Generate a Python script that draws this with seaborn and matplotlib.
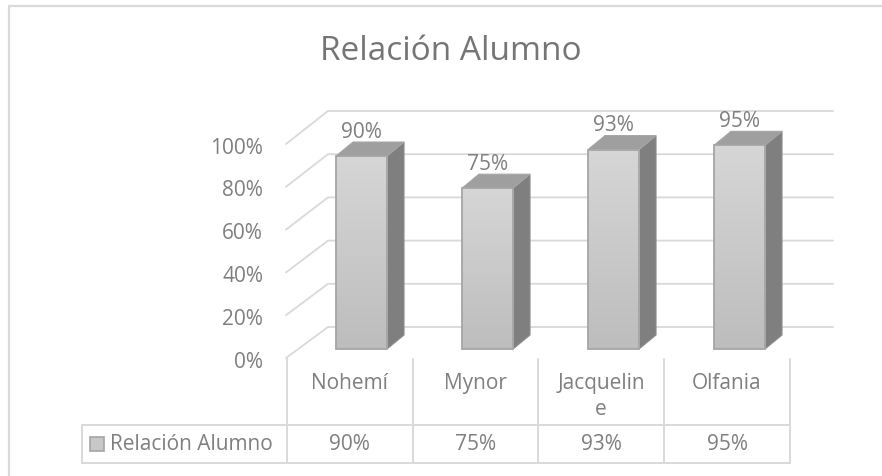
import textwrap
import numpy as np
import pandas as pd
import seaborn as sns
import matplotlib.pyplot as plt
from matplotlib.patches import Polygon, Rectangle
from matplotlib.transforms import ScaledTranslation

categorias = ["Nohemí", "Mynor", "Jacqueline", "Olfania"]
valores = [90, 75, 93, 95]
serie = "Relación Alumno"
ticks = [0, 20, 40, 60, 80, 100]

W, H = 882, 476
GRIS_LINEA = "#d9d9d9"
GRIS_TEXTO = "#7f7f7f"
LETRA = 15

sns.set_theme(style="white")
plt.rcParams["font.family"] = ["Open Sans", "DejaVu Sans"]

fig = plt.figure(figsize=(W / 100, H / 100), dpi=100)

# Capa de fondo en pixeles: marco, paredes 3D y tabla de datos
fondo = fig.add_axes([0, 0, 1, 1], zorder=0)
fondo.set_xlim(0, W)
fondo.set_ylim(H, 0)
fondo.axis("off")

fondo.plot([8.5, 8.5, W], [H, 5.5, 5.5], color=GRIS_LINEA, lw=1.6)

for t in ticks:
    y_frente = 358 - 2.14 * t
    y_fondo = 327 - 2.16 * t
    fondo.plot([286, 328, 833], [y_frente, y_fondo, y_fondo], color=GRIS_LINEA, lw=1.3)

# Tabla
cortes = [287, 412.5, 538, 664, 790]
for x in cortes:
    fondo.plot([x, x], [359, 463], color=GRIS_LINEA, lw=1.4)
fondo.plot([82, 82, 790], [463, 425, 425], color=GRIS_LINEA, lw=1.4)
fondo.plot([82, 790], [463, 463], color=GRIS_LINEA, lw=1.4)

for i, (nombre, v) in enumerate(zip(categorias, valores)):
    centro = (cortes[i] + cortes[i + 1]) / 2
    fondo.text(centro, 373, "\n".join(textwrap.wrap(nombre, 9)), ha="center", va="top",
               fontsize=LETRA, color=GRIS_TEXTO, linespacing=1.3)
    fondo.text(centro, 445, f"{v}%", ha="center", va="center", fontsize=LETRA, color=GRIS_TEXTO)

fondo.add_patch(Rectangle((90, 437), 14, 14, facecolor="#c8c8c8", edgecolor="#a5a5a5", lw=1.2))
fondo.text(110, 445, serie, ha="left", va="center", fontsize=LETRA, color=GRIS_TEXTO)

fondo.text(451, 52, serie, ha="center", va="center", fontsize=24, color="#757575")

# Barras con seaborn sobre escala real de 0 a 100
ax = fig.add_axes([298.5 / W, (H - 349) / H, 504 / W, 214.4 / H], zorder=1)
ax.patch.set_alpha(0)
df = pd.DataFrame({"nombre": categorias, "valor": valores})
sns.barplot(data=df, x="nombre", y="valor", color="#c8c8c8", saturation=1, width=0.405,
            edgecolor="#a5a5a5", linewidth=1.3, ax=ax)

ax.set_xlim(-0.5, 3.5)
ax.set_ylim(0, 100)
ax.set_xlabel("")
ax.set_ylabel("")
ax.set_xticks([])
ax.set_yticks(ticks)
ax.set_yticklabels([f"{t}%" for t in ticks], fontsize=LETRA, color=GRIS_TEXTO)
ax.tick_params(axis="y", length=0, pad=25.5)
sns.despine(ax=ax, left=True, bottom=True)

# Las etiquetas del eje van en el plano frontal, un poco por debajo de las barras
bajar = ScaledTranslation(0, -11 / 100, fig.dpi_scale_trans)
for lab in ax.get_yticklabels():
    lab.set_transform(lab.get_transform() + bajar)

# Caras laterales, superiores y degradado de cada barra
dx = 17 / 126
dy = 14 / 2.144
degradado = np.linspace(0, 1, 256).reshape(-1, 1)
cmap = sns.blend_palette(["#d6d6d6", "#bdbdbd"], n_colors=256, as_cmap=True)
for barra in list(ax.patches):
    x0, x1 = barra.get_x(), barra.get_x() + barra.get_width()
    alto = barra.get_height()
    ax.add_patch(Polygon([(x1, 0), (x1 + dx, dy), (x1 + dx, alto + dy), (x1, alto)],
                         facecolor="#7f7f7f", edgecolor="#8c8c8c", lw=0.8, zorder=2))
    ax.add_patch(Polygon([(x0, alto), (x0 + dx, alto + dy), (x1 + dx, alto + dy), (x1, alto)],
                         facecolor="#9f9f9f", edgecolor="#a5a5a5", lw=0.8, zorder=2))
    ax.imshow(degradado, extent=(x0, x1, 0, alto), origin="upper", aspect="auto",
              cmap=cmap, zorder=3)
    barra.set_zorder(4)
    barra.set_facecolor("none")
    ax.annotate(f"{alto:.0f}%", (x0 + (x1 - x0) / 2, alto + dy), xytext=(0, 10), textcoords="offset pixels",
                ha="center", va="center", fontsize=LETRA, color=GRIS_TEXTO, annotation_clip=False)

ax.set_xlim(-0.5, 3.5)
ax.set_ylim(0, 100)
for artista in ax.patches + ax.images:
    artista.set_clip_on(False)

fig.savefig("out.png", dpi=100)
plt.close(fig)
